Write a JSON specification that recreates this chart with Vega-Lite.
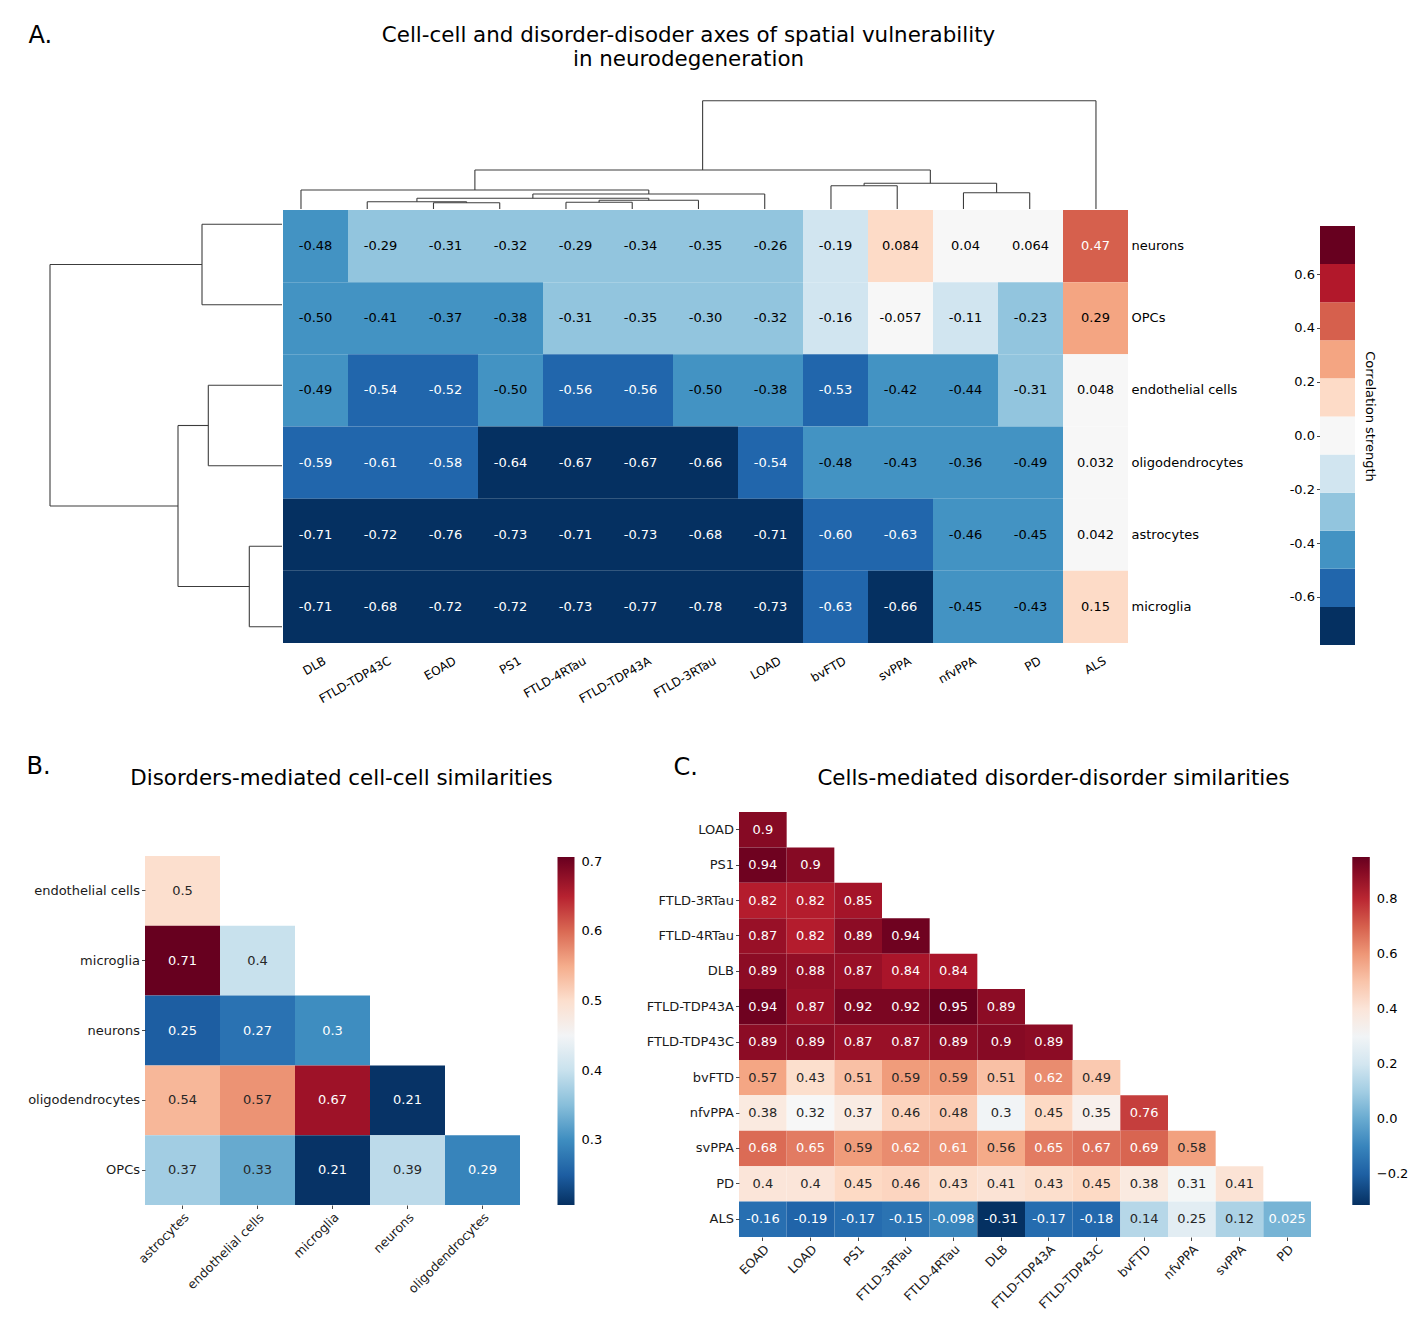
{
  "$schema": "https://vega.github.io/schema/vega-lite/v6.json",
  "background": "white",
  "padding": {"left": 26, "top": 23, "right": 5, "bottom": 5},
  "bounds": "flush",
  "spacing": 169,
  "datasets": {
    "vulnerability": [
      {"cell":"neurons","disorder":"DLB","correlation":-0.48},{"cell":"neurons","disorder":"FTLD-TDP43C","correlation":-0.29},{"cell":"neurons","disorder":"EOAD","correlation":-0.31},{"cell":"neurons","disorder":"PS1","correlation":-0.32},{"cell":"neurons","disorder":"FTLD-4RTau","correlation":-0.29},{"cell":"neurons","disorder":"FTLD-TDP43A","correlation":-0.34},{"cell":"neurons","disorder":"FTLD-3RTau","correlation":-0.35},{"cell":"neurons","disorder":"LOAD","correlation":-0.26},{"cell":"neurons","disorder":"bvFTD","correlation":-0.19},{"cell":"neurons","disorder":"svPPA","correlation":0.084},{"cell":"neurons","disorder":"nfvPPA","correlation":0.04},{"cell":"neurons","disorder":"PD","correlation":0.064},{"cell":"neurons","disorder":"ALS","correlation":0.47},
      {"cell":"OPCs","disorder":"DLB","correlation":-0.4955},{"cell":"OPCs","disorder":"FTLD-TDP43C","correlation":-0.41},{"cell":"OPCs","disorder":"EOAD","correlation":-0.37},{"cell":"OPCs","disorder":"PS1","correlation":-0.38},{"cell":"OPCs","disorder":"FTLD-4RTau","correlation":-0.31},{"cell":"OPCs","disorder":"FTLD-TDP43A","correlation":-0.35},{"cell":"OPCs","disorder":"FTLD-3RTau","correlation":-0.30},{"cell":"OPCs","disorder":"LOAD","correlation":-0.32},{"cell":"OPCs","disorder":"bvFTD","correlation":-0.16},{"cell":"OPCs","disorder":"svPPA","correlation":-0.057},{"cell":"OPCs","disorder":"nfvPPA","correlation":-0.11},{"cell":"OPCs","disorder":"PD","correlation":-0.23},{"cell":"OPCs","disorder":"ALS","correlation":0.29},
      {"cell":"endothelial cells","disorder":"DLB","correlation":-0.49},{"cell":"endothelial cells","disorder":"FTLD-TDP43C","correlation":-0.54},{"cell":"endothelial cells","disorder":"EOAD","correlation":-0.52},{"cell":"endothelial cells","disorder":"PS1","correlation":-0.4955},{"cell":"endothelial cells","disorder":"FTLD-4RTau","correlation":-0.56},{"cell":"endothelial cells","disorder":"FTLD-TDP43A","correlation":-0.56},{"cell":"endothelial cells","disorder":"FTLD-3RTau","correlation":-0.4955},{"cell":"endothelial cells","disorder":"LOAD","correlation":-0.38},{"cell":"endothelial cells","disorder":"bvFTD","correlation":-0.53},{"cell":"endothelial cells","disorder":"svPPA","correlation":-0.42},{"cell":"endothelial cells","disorder":"nfvPPA","correlation":-0.44},{"cell":"endothelial cells","disorder":"PD","correlation":-0.31},{"cell":"endothelial cells","disorder":"ALS","correlation":0.048},
      {"cell":"oligodendrocytes","disorder":"DLB","correlation":-0.59},{"cell":"oligodendrocytes","disorder":"FTLD-TDP43C","correlation":-0.61},{"cell":"oligodendrocytes","disorder":"EOAD","correlation":-0.58},{"cell":"oligodendrocytes","disorder":"PS1","correlation":-0.64},{"cell":"oligodendrocytes","disorder":"FTLD-4RTau","correlation":-0.67},{"cell":"oligodendrocytes","disorder":"FTLD-TDP43A","correlation":-0.67},{"cell":"oligodendrocytes","disorder":"FTLD-3RTau","correlation":-0.66},{"cell":"oligodendrocytes","disorder":"LOAD","correlation":-0.54},{"cell":"oligodendrocytes","disorder":"bvFTD","correlation":-0.48},{"cell":"oligodendrocytes","disorder":"svPPA","correlation":-0.43},{"cell":"oligodendrocytes","disorder":"nfvPPA","correlation":-0.36},{"cell":"oligodendrocytes","disorder":"PD","correlation":-0.49},{"cell":"oligodendrocytes","disorder":"ALS","correlation":0.032},
      {"cell":"astrocytes","disorder":"DLB","correlation":-0.71},{"cell":"astrocytes","disorder":"FTLD-TDP43C","correlation":-0.72},{"cell":"astrocytes","disorder":"EOAD","correlation":-0.76},{"cell":"astrocytes","disorder":"PS1","correlation":-0.73},{"cell":"astrocytes","disorder":"FTLD-4RTau","correlation":-0.71},{"cell":"astrocytes","disorder":"FTLD-TDP43A","correlation":-0.73},{"cell":"astrocytes","disorder":"FTLD-3RTau","correlation":-0.68},{"cell":"astrocytes","disorder":"LOAD","correlation":-0.71},{"cell":"astrocytes","disorder":"bvFTD","correlation":-0.60},{"cell":"astrocytes","disorder":"svPPA","correlation":-0.63},{"cell":"astrocytes","disorder":"nfvPPA","correlation":-0.46},{"cell":"astrocytes","disorder":"PD","correlation":-0.45},{"cell":"astrocytes","disorder":"ALS","correlation":0.042},
      {"cell":"microglia","disorder":"DLB","correlation":-0.71},{"cell":"microglia","disorder":"FTLD-TDP43C","correlation":-0.68},{"cell":"microglia","disorder":"EOAD","correlation":-0.72},{"cell":"microglia","disorder":"PS1","correlation":-0.72},{"cell":"microglia","disorder":"FTLD-4RTau","correlation":-0.73},{"cell":"microglia","disorder":"FTLD-TDP43A","correlation":-0.77},{"cell":"microglia","disorder":"FTLD-3RTau","correlation":-0.78},{"cell":"microglia","disorder":"LOAD","correlation":-0.73},{"cell":"microglia","disorder":"bvFTD","correlation":-0.63},{"cell":"microglia","disorder":"svPPA","correlation":-0.66},{"cell":"microglia","disorder":"nfvPPA","correlation":-0.45},{"cell":"microglia","disorder":"PD","correlation":-0.43},{"cell":"microglia","disorder":"ALS","correlation":0.15}
    ],
    "col_dendro": [
      {"u1":2,"u2":2,"h1":0,"h2":0.063},{"u1":3,"u2":3,"h1":0,"h2":0.063},{"u1":2,"u2":3,"h1":0.063,"h2":0.063},
      {"u1":1,"u2":1,"h1":0,"h2":0.073},{"u1":2.5,"u2":2.5,"h1":0.063,"h2":0.073},{"u1":1,"u2":2.5,"h1":0.073,"h2":0.073},
      {"u1":4,"u2":4,"h1":0,"h2":0.067},{"u1":5,"u2":5,"h1":0,"h2":0.067},{"u1":4,"u2":5,"h1":0.067,"h2":0.067},
      {"u1":4.5,"u2":4.5,"h1":0.067,"h2":0.087},{"u1":6,"u2":6,"h1":0,"h2":0.087},{"u1":4.5,"u2":6,"h1":0.087,"h2":0.087},
      {"u1":1.75,"u2":1.75,"h1":0.073,"h2":0.107},{"u1":5.25,"u2":5.25,"h1":0.087,"h2":0.107},{"u1":1.75,"u2":5.25,"h1":0.107,"h2":0.107},
      {"u1":3.5,"u2":3.5,"h1":0.107,"h2":0.15},{"u1":7,"u2":7,"h1":0,"h2":0.15},{"u1":3.5,"u2":7,"h1":0.15,"h2":0.15},
      {"u1":0,"u2":0,"h1":0,"h2":0.19},{"u1":5.25,"u2":5.25,"h1":0.15,"h2":0.19},{"u1":0,"u2":5.25,"h1":0.19,"h2":0.19},
      {"u1":8,"u2":8,"h1":0,"h2":0.233},{"u1":9,"u2":9,"h1":0,"h2":0.233},{"u1":8,"u2":9,"h1":0.233,"h2":0.233},
      {"u1":10,"u2":10,"h1":0,"h2":0.163},{"u1":11,"u2":11,"h1":0,"h2":0.163},{"u1":10,"u2":11,"h1":0.163,"h2":0.163},
      {"u1":8.5,"u2":8.5,"h1":0.233,"h2":0.257},{"u1":10.5,"u2":10.5,"h1":0.163,"h2":0.257},{"u1":8.5,"u2":10.5,"h1":0.257,"h2":0.257},
      {"u1":2.625,"u2":2.625,"h1":0.19,"h2":0.39},{"u1":9.5,"u2":9.5,"h1":0.257,"h2":0.39},{"u1":2.625,"u2":9.5,"h1":0.39,"h2":0.39},
      {"u1":6.0625,"u2":6.0625,"h1":0.39,"h2":1.083},{"u1":12,"u2":12,"h1":0,"h2":1.083},{"u1":6.0625,"u2":12,"h1":1.083,"h2":1.083}
    ],
    "row_dendro": [
      {"d1":0,"d2":0.8,"u1":0,"u2":0},{"d1":0,"d2":0.8,"u1":1,"u2":1},{"d1":0.8,"d2":0.8,"u1":0,"u2":1},
      {"d1":0,"d2":0.737,"u1":2,"u2":2},{"d1":0,"d2":0.737,"u1":3,"u2":3},{"d1":0.737,"d2":0.737,"u1":2,"u2":3},
      {"d1":0,"d2":0.327,"u1":4,"u2":4},{"d1":0,"d2":0.327,"u1":5,"u2":5},{"d1":0.327,"d2":0.327,"u1":4,"u2":5},
      {"d1":0.737,"d2":1.04,"u1":2.5,"u2":2.5},{"d1":0.327,"d2":1.04,"u1":4.5,"u2":4.5},{"d1":1.04,"d2":1.04,"u1":2.5,"u2":4.5},
      {"d1":0.8,"d2":2.32,"u1":0.5,"u2":0.5},{"d1":1.04,"d2":2.32,"u1":3.5,"u2":3.5},{"d1":2.32,"d2":2.32,"u1":0.5,"u2":3.5}
    ],
    "colorbar": [
      {"lo":-0.779,"hi":-0.6373},{"lo":-0.6373,"hi":-0.4957},{"lo":-0.4957,"hi":-0.354},{"lo":-0.354,"hi":-0.2124},{"lo":-0.2124,"hi":-0.0708},{"lo":-0.0708,"hi":0.0709},{"lo":0.0709,"hi":0.2125},{"lo":0.2125,"hi":0.3541},{"lo":0.3541,"hi":0.4958},{"lo":0.4958,"hi":0.6374},{"lo":0.6374,"hi":0.779}
    ],
    "cell_sim": [
      {"row":"endothelial cells","col":"astrocytes","similarity":0.5},
      {"row":"microglia","col":"astrocytes","similarity":0.707},{"row":"microglia","col":"endothelial cells","similarity":0.4},
      {"row":"neurons","col":"astrocytes","similarity":0.25},{"row":"neurons","col":"endothelial cells","similarity":0.27},{"row":"neurons","col":"microglia","similarity":0.3},
      {"row":"oligodendrocytes","col":"astrocytes","similarity":0.54},{"row":"oligodendrocytes","col":"endothelial cells","similarity":0.57},{"row":"oligodendrocytes","col":"microglia","similarity":0.67},{"row":"oligodendrocytes","col":"neurons","similarity":0.21},
      {"row":"OPCs","col":"astrocytes","similarity":0.37},{"row":"OPCs","col":"endothelial cells","similarity":0.33},{"row":"OPCs","col":"microglia","similarity":0.21},{"row":"OPCs","col":"neurons","similarity":0.39},{"row":"OPCs","col":"oligodendrocytes","similarity":0.29}
    ],
    "disorder_sim": [
      {"row":"LOAD","col":"EOAD","similarity":0.9},
      {"row":"PS1","col":"EOAD","similarity":0.94},{"row":"PS1","col":"LOAD","similarity":0.9},
      {"row":"FTLD-3RTau","col":"EOAD","similarity":0.82},{"row":"FTLD-3RTau","col":"LOAD","similarity":0.82},{"row":"FTLD-3RTau","col":"PS1","similarity":0.85},
      {"row":"FTLD-4RTau","col":"EOAD","similarity":0.87},{"row":"FTLD-4RTau","col":"LOAD","similarity":0.82},{"row":"FTLD-4RTau","col":"PS1","similarity":0.89},{"row":"FTLD-4RTau","col":"FTLD-3RTau","similarity":0.94},
      {"row":"DLB","col":"EOAD","similarity":0.89},{"row":"DLB","col":"LOAD","similarity":0.88},{"row":"DLB","col":"PS1","similarity":0.87},{"row":"DLB","col":"FTLD-3RTau","similarity":0.84},{"row":"DLB","col":"FTLD-4RTau","similarity":0.84},
      {"row":"FTLD-TDP43A","col":"EOAD","similarity":0.94},{"row":"FTLD-TDP43A","col":"LOAD","similarity":0.87},{"row":"FTLD-TDP43A","col":"PS1","similarity":0.92},{"row":"FTLD-TDP43A","col":"FTLD-3RTau","similarity":0.92},{"row":"FTLD-TDP43A","col":"FTLD-4RTau","similarity":0.95},{"row":"FTLD-TDP43A","col":"DLB","similarity":0.89},
      {"row":"FTLD-TDP43C","col":"EOAD","similarity":0.89},{"row":"FTLD-TDP43C","col":"LOAD","similarity":0.89},{"row":"FTLD-TDP43C","col":"PS1","similarity":0.87},{"row":"FTLD-TDP43C","col":"FTLD-3RTau","similarity":0.87},{"row":"FTLD-TDP43C","col":"FTLD-4RTau","similarity":0.89},{"row":"FTLD-TDP43C","col":"DLB","similarity":0.9},{"row":"FTLD-TDP43C","col":"FTLD-TDP43A","similarity":0.89},
      {"row":"bvFTD","col":"EOAD","similarity":0.57},{"row":"bvFTD","col":"LOAD","similarity":0.43},{"row":"bvFTD","col":"PS1","similarity":0.51},{"row":"bvFTD","col":"FTLD-3RTau","similarity":0.59},{"row":"bvFTD","col":"FTLD-4RTau","similarity":0.59},{"row":"bvFTD","col":"DLB","similarity":0.51},{"row":"bvFTD","col":"FTLD-TDP43A","similarity":0.62},{"row":"bvFTD","col":"FTLD-TDP43C","similarity":0.49},
      {"row":"nfvPPA","col":"EOAD","similarity":0.38},{"row":"nfvPPA","col":"LOAD","similarity":0.32},{"row":"nfvPPA","col":"PS1","similarity":0.37},{"row":"nfvPPA","col":"FTLD-3RTau","similarity":0.46},{"row":"nfvPPA","col":"FTLD-4RTau","similarity":0.48},{"row":"nfvPPA","col":"DLB","similarity":0.3},{"row":"nfvPPA","col":"FTLD-TDP43A","similarity":0.45},{"row":"nfvPPA","col":"FTLD-TDP43C","similarity":0.35},{"row":"nfvPPA","col":"bvFTD","similarity":0.76},
      {"row":"svPPA","col":"EOAD","similarity":0.68},{"row":"svPPA","col":"LOAD","similarity":0.65},{"row":"svPPA","col":"PS1","similarity":0.59},{"row":"svPPA","col":"FTLD-3RTau","similarity":0.62},{"row":"svPPA","col":"FTLD-4RTau","similarity":0.61},{"row":"svPPA","col":"DLB","similarity":0.56},{"row":"svPPA","col":"FTLD-TDP43A","similarity":0.65},{"row":"svPPA","col":"FTLD-TDP43C","similarity":0.67},{"row":"svPPA","col":"bvFTD","similarity":0.69},{"row":"svPPA","col":"nfvPPA","similarity":0.58},
      {"row":"PD","col":"EOAD","similarity":0.4},{"row":"PD","col":"LOAD","similarity":0.4},{"row":"PD","col":"PS1","similarity":0.45},{"row":"PD","col":"FTLD-3RTau","similarity":0.46},{"row":"PD","col":"FTLD-4RTau","similarity":0.43},{"row":"PD","col":"DLB","similarity":0.41},{"row":"PD","col":"FTLD-TDP43A","similarity":0.43},{"row":"PD","col":"FTLD-TDP43C","similarity":0.45},{"row":"PD","col":"bvFTD","similarity":0.38},{"row":"PD","col":"nfvPPA","similarity":0.31},{"row":"PD","col":"svPPA","similarity":0.41},
      {"row":"ALS","col":"EOAD","similarity":-0.16},{"row":"ALS","col":"LOAD","similarity":-0.19},{"row":"ALS","col":"PS1","similarity":-0.17},{"row":"ALS","col":"FTLD-3RTau","similarity":-0.15},{"row":"ALS","col":"FTLD-4RTau","similarity":-0.098},{"row":"ALS","col":"DLB","similarity":-0.31},{"row":"ALS","col":"FTLD-TDP43A","similarity":-0.17},{"row":"ALS","col":"FTLD-TDP43C","similarity":-0.18},{"row":"ALS","col":"bvFTD","similarity":0.14},{"row":"ALS","col":"nfvPPA","similarity":0.25},{"row":"ALS","col":"svPPA","similarity":0.12},{"row":"ALS","col":"PD","similarity":0.025}
    ]
  },
  "vconcat": [
    {
      "width": 1310,
      "height": 545,
      "resolve": {"scale": {"x": "independent", "y": "independent"}},
      "layer": [
        {
          "data": {"name": "vulnerability"},
          "encoding": {
            "x": {"field": "disorder", "type": "nominal", "sort": ["DLB","FTLD-TDP43C","EOAD","PS1","FTLD-4RTau","FTLD-TDP43A","FTLD-3RTau","LOAD","bvFTD","svPPA","nfvPPA","PD","ALS"],
                  "scale": {"type": "band", "paddingInner": 0, "paddingOuter": 0, "range": [238, 1083]},
                  "axis": {"orient": "bottom", "title": null, "labelAngle": -30, "ticks": false, "domain": false, "labelFontSize": 12, "labelPadding": 12, "labelOffset": 7, "labelColor": "black"}},
            "y": {"field": "cell", "type": "nominal", "sort": ["neurons","OPCs","endothelial cells","oligodendrocytes","astrocytes","microglia"],
                  "scale": {"type": "band", "paddingInner": 0, "paddingOuter": 0, "range": [112, 545]},
                  "axis": {"orient": "right", "offset": -227, "title": null, "ticks": false, "domain": false, "labelFontSize": 13, "labelPadding": 3, "labelColor": "black"}}
          },
          "layer": [
            {"mark": {"type": "rect"},
             "encoding": {"color": {"field": "correlation", "type": "quantitative",
               "scale": {"type": "quantize", "domain": [-0.779, 0.779], "range": ["#053061","#2166ac","#4393c3","#92c5de","#d1e5f0","#f7f7f7","#fddbc7","#f4a582","#d6604d","#b2182b","#67001f"]},
               "legend": null}}},
            {"transform": [{"filter": "abs(datum.correlation) >= 0.1"}],
             "mark": {"type": "text", "fontSize": 13},
             "encoding": {"text": {"field": "correlation", "type": "quantitative", "format": ".2f"},
               "color": {"condition": {"test": "datum.correlation < -0.4957 || datum.correlation > 0.3541", "value": "white"}, "value": "black"}}},
            {"transform": [{"filter": "abs(datum.correlation) < 0.1"}],
             "mark": {"type": "text", "fontSize": 13},
             "encoding": {"text": {"field": "correlation", "type": "quantitative", "format": ".2~g"},
               "color": {"value": "black"}}}
          ]
        },
        {
          "data": {"name": "col_dendro"},
          "mark": {"type": "rule", "color": "#3c3c3c", "strokeWidth": 1.1},
          "encoding": {
            "x": {"field": "u1", "type": "quantitative", "scale": {"domain": [-3.864, 15.91]},
                  "axis": {"orient": "top", "labels": false, "ticks": false, "domain": false, "grid": false,
                           "title": ["Cell-cell and disorder-disoder axes of spatial vulnerability", "in neurodegeneration"],
                           "titleX": 643, "titleY": -63, "titleAlign": "center", "titleBaseline": "middle", "titleAngle": 0, "titleFontSize": 21.4, "titleFontWeight": "normal", "titleLineHeight": 24, "titleColor": "black"}},
            "x2": {"field": "u2"},
            "y": {"field": "h1", "type": "quantitative", "scale": {"domain": [-4.34, 1.11]}, "axis": null},
            "y2": {"field": "h2"}
          }
        },
        {
          "data": {"name": "row_dendro"},
          "mark": {"type": "rule", "color": "#3c3c3c", "strokeWidth": 1.1},
          "encoding": {
            "x": {"field": "d1", "type": "quantitative", "scale": {"domain": [-10.73, 2.37], "reverse": true}, "axis": null},
            "x2": {"field": "d2"},
            "y": {"field": "u1", "type": "quantitative", "scale": {"domain": [-1.5694, 5.2026], "reverse": true},
                  "axis": {"orient": "left", "labels": false, "ticks": false, "domain": false, "grid": false, "title": "A.", "titleAngle": 0, "titleX": -17, "titleY": -63, "titleAlign": "left", "titleBaseline": "middle", "titleFontSize": 24, "titleFontWeight": "normal", "titleColor": "black"}},
            "y2": {"field": "u2"}
          }
        },
        {
          "data": {"name": "colorbar"},
          "mark": {"type": "rect"},
          "encoding": {
            "x": {"datum": "Correlation strength", "type": "nominal", "scale": {"type": "band", "paddingInner": 0, "paddingOuter": 0, "range": [1275, 1310]}, "axis": null},
            "y": {"field": "lo", "type": "quantitative", "scale": {"domain": [-0.7716, 1.2551]},
                  "axis": {"orient": "left", "offset": -1275, "values": [-0.6,-0.4,-0.2,0,0.2,0.4,0.6], "format": ".1f", "domain": false, "grid": false, "ticks": true, "tickSize": 3.5, "labelFontSize": 13, "labelPadding": 2, "labelColor": "black",
                           "title": "Correlation strength", "titleAngle": 90, "titleX": 49, "titleY": 318, "titleAlign": "center", "titleBaseline": "middle", "titleFontSize": 13, "titleFontWeight": "normal", "titleColor": "black"}},
            "y2": {"field": "hi"},
            "color": {"field": "lo", "type": "quantitative",
              "scale": {"type": "quantize", "domain": [-0.779, 0.779], "range": ["#053061","#2166ac","#4393c3","#92c5de","#d1e5f0","#f7f7f7","#fddbc7","#f4a582","#d6604d","#b2182b","#67001f"]},
              "legend": null}
          }
        }
      ]
    },
    {
      "width": 1266,
      "height": 425,
      "resolve": {"scale": {"x": "independent", "y": "independent", "color": "independent"}},
      "layer": [
        {
          "data": {"name": "cell_sim"},
          "encoding": {
            "x": {"field": "col", "type": "nominal", "sort": ["astrocytes","endothelial cells","microglia","neurons","oligodendrocytes"],
                  "scale": {"type": "band", "paddingInner": 0, "paddingOuter": 0, "range": [100, 475]},
                  "axis": {"orient": "bottom", "offset": -32, "labelAngle": -45, "ticks": true, "tickSize": 3.5, "domain": false, "labelFontSize": 12.5, "labelPadding": 2,
                           "title": "Disorders-mediated cell-cell similarities", "titleX": 296, "titleY": -427, "titleAlign": "center", "titleBaseline": "middle", "titleAngle": 0, "titleFontSize": 21.4, "titleFontWeight": "normal", "titleColor": "black"}},
            "y": {"field": "row", "type": "nominal", "sort": ["endothelial cells","microglia","neurons","oligodendrocytes","OPCs"],
                  "scale": {"type": "band", "paddingInner": 0, "paddingOuter": 0, "range": [44, 393]},
                  "axis": {"orient": "left", "offset": -100, "ticks": true, "tickSize": 3.5, "domain": false, "labelFontSize": 13, "labelPadding": 2,
                           "title": "B.", "titleAngle": 0, "titleX": -119, "titleY": -46, "titleAlign": "left", "titleBaseline": "middle", "titleFontSize": 24, "titleFontWeight": "normal", "titleColor": "black"}}
          },
          "layer": [
            {"mark": {"type": "rect"},
             "encoding": {"color": {"field": "similarity", "type": "quantitative",
               "scale": {"domain": [0.207,0.257,0.307,0.357,0.407,0.457,0.507,0.557,0.607,0.657,0.707], "range": ["#053061","#2166ac","#4393c3","#92c5de","#d1e5f0","#f7f7f7","#fddbc7","#f4a582","#d6604d","#b2182b","#67001f"], "interpolate": "rgb"},
               "legend": {"orient": "none", "legendX": 512.5, "legendY": 45, "direction": "vertical", "title": null, "gradientLength": 348, "gradientThickness": 17, "gradientStrokeWidth": 0, "values": [0.3,0.4,0.5,0.6,0.7], "format": ".1f", "labelFontSize": 13, "labelOffset": 7, "labelColor": "black", "padding": 0}}}},
            {"mark": {"type": "text", "fontSize": 13},
             "encoding": {"text": {"field": "similarity", "type": "quantitative", "format": ".2~g"},
               "color": {"condition": {"test": "datum.similarity < 0.31 || datum.similarity > 0.6", "value": "white"}, "value": "#262626"}}}
          ]
        },
        {
          "data": {"name": "disorder_sim"},
          "encoding": {
            "x": {"field": "col", "type": "nominal", "sort": ["EOAD","LOAD","PS1","FTLD-3RTau","FTLD-4RTau","DLB","FTLD-TDP43A","FTLD-TDP43C","bvFTD","nfvPPA","svPPA","PD"],
                  "scale": {"type": "band", "paddingInner": 0, "paddingOuter": 0, "range": [694, 1266]},
                  "axis": {"orient": "bottom", "labelAngle": -45, "ticks": true, "tickSize": 3.5, "domain": false, "labelFontSize": 12.5, "labelPadding": 2,
                           "title": "Cells-mediated disorder-disorder similarities", "titleX": 1008, "titleY": -459, "titleAlign": "center", "titleBaseline": "middle", "titleAngle": 0, "titleFontSize": 21.4, "titleFontWeight": "normal", "titleColor": "black"}},
            "y": {"field": "row", "type": "nominal", "sort": ["LOAD","PS1","FTLD-3RTau","FTLD-4RTau","DLB","FTLD-TDP43A","FTLD-TDP43C","bvFTD","nfvPPA","svPPA","PD","ALS"],
                  "scale": {"type": "band", "paddingInner": 0, "paddingOuter": 0, "range": [0, 425]},
                  "axis": {"orient": "left", "offset": -694, "ticks": true, "tickSize": 3.5, "domain": false, "labelFontSize": 13, "labelPadding": 2,
                           "title": "C.", "titleAngle": 0, "titleX": -66, "titleY": -45, "titleAlign": "left", "titleBaseline": "middle", "titleFontSize": 24, "titleFontWeight": "normal", "titleColor": "black"}}
          },
          "layer": [
            {"mark": {"type": "rect"},
             "encoding": {"color": {"field": "similarity", "type": "quantitative",
               "scale": {"domain": [-0.312,-0.1855,-0.059,0.0675,0.194,0.3205,0.447,0.5735,0.7,0.8265,0.953], "range": ["#053061","#2166ac","#4393c3","#92c5de","#d1e5f0","#f7f7f7","#fddbc7","#f4a582","#d6604d","#b2182b","#67001f"], "interpolate": "rgb"},
               "legend": {"orient": "none", "legendX": 1307.3, "legendY": 45, "direction": "vertical", "title": null, "gradientLength": 348, "gradientThickness": 17.5, "gradientStrokeWidth": 0, "values": [-0.2,0,0.2,0.4,0.6,0.8], "format": ".1f", "labelExpr": "replace(datum.label, '-', '\u2212')", "labelFontSize": 13, "labelOffset": 7, "labelColor": "black", "padding": 0}}}},
            {"mark": {"type": "text", "fontSize": 13},
             "encoding": {"text": {"field": "similarity", "type": "quantitative", "format": ".2~g"},
               "color": {"condition": {"test": "datum.similarity < 0.05 || datum.similarity > 0.6", "value": "white"}, "value": "#262626"}}}
          ]
        }
      ]
    }
  ],
  "config": {
    "font": "DejaVu Sans",
    "view": {"stroke": null},
    "locale": {"number": {"decimal": ".", "thousands": ",", "grouping": [3], "currency": ["$", ""], "minus": "-"}},
    "axis": {"grid": false, "labelFont": "DejaVu Sans", "titleFont": "DejaVu Sans", "labelColor": "#1a1a1a", "tickColor": "#1a1a1a", "tickWidth": 0.8},
    "legend": {"labelFont": "DejaVu Sans", "titleFont": "DejaVu Sans"},
    "title": {"font": "DejaVu Sans"},
    "text": {"font": "DejaVu Sans"}
  }
}
